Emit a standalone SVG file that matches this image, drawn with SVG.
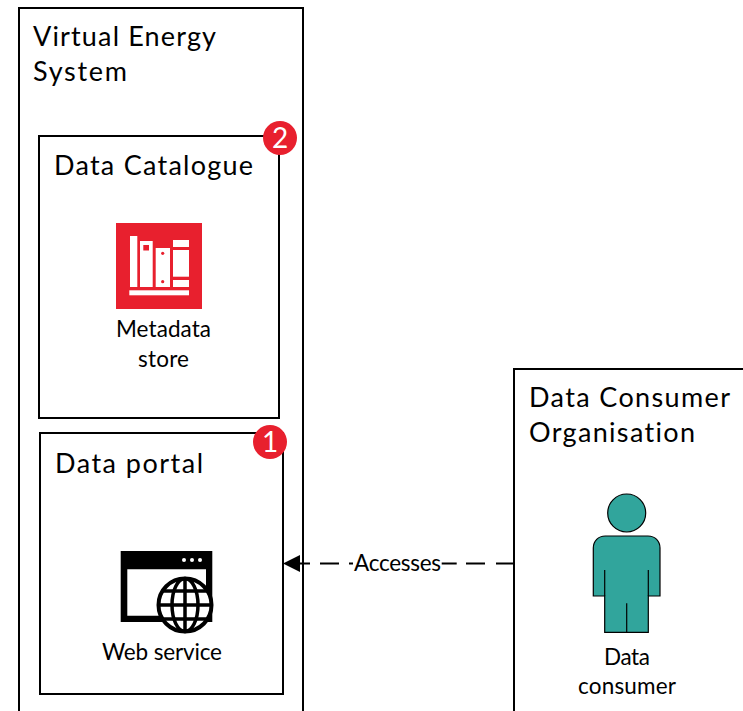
<svg xmlns="http://www.w3.org/2000/svg" width="743" height="711" viewBox="0 0 743 711">
<style>
text{font-family:Lato,"Open Sans",sans-serif;fill:#000;font-variant-ligatures:none}
.t{font-size:27px}
.l{font-size:22.500px;text-anchor:middle}
.box{fill:#fff;stroke:#000;stroke-width:2}
.badge{fill:#e8202e}
.bt{font-size:28px;fill:#fff;text-anchor:middle}
.w{fill:#fff}
.r{fill:#e8202e}
.p{fill:#31a59c;stroke:#000;stroke-width:1.200}
</style>
<g id="virtual-energy-system">
<rect class="box" x="19" y="8" width="284" height="720"/>
<text class="t" x="33" y="46" textLength="183" lengthAdjust="spacing">Virtual Energy</text>
<text class="t" x="33" y="81" textLength="94" lengthAdjust="spacing">System</text>
</g>
<g id="data-catalogue">
<rect class="box" x="39" y="136" width="240" height="282"/>
<text class="t" x="54" y="175" textLength="199" lengthAdjust="spacing">Data Catalogue</text>
<rect class="r" x="116" y="223" width="86" height="86"/>
<rect class="w" x="130" y="236" width="7.300" height="51"/>
<rect class="w" x="140" y="241" width="12.700" height="46"/>
<rect class="r" x="143.300" y="245" width="5.700" height="5.500"/>
<rect class="w" x="155.700" y="248" width="14.300" height="39"/>
<circle class="r" cx="162.700" cy="253.300" r="1.600"/>
<circle class="r" cx="162.700" cy="281.700" r="1.600"/>
<rect class="w" x="173" y="240" width="16" height="7"/>
<rect class="w" x="173" y="250" width="16" height="26.700"/>
<rect class="w" x="173" y="280" width="16" height="7"/>
<rect class="w" x="129.300" y="290.300" width="59.700" height="5"/>
<text class="l" x="163.500" y="337" textLength="95" lengthAdjust="spacing">Metadata</text>
<text class="l" x="163.500" y="367" textLength="51" lengthAdjust="spacing">store</text>
</g>
<g id="badge-2">
<circle class="badge" cx="280" cy="138" r="17"/>
<text class="bt" x="280" y="148">2</text>
</g>
<g id="data-portal">
<rect class="box" x="40" y="433" width="243" height="261"/>
<text class="t" x="55" y="473" textLength="148" lengthAdjust="spacing">Data portal</text>
<path fill="#000" fill-rule="evenodd" d="M120.700 551H212.300V622H120.700ZM127.300 569.300V615.700H206V569.300Z"/>
<circle class="w" cx="184" cy="560" r="2"/>
<circle class="w" cx="192" cy="560" r="2"/>
<circle class="w" cx="200" cy="560" r="2"/>
<g fill="none" stroke="#000" stroke-width="3.500">
<circle cx="185" cy="605" r="26.500" fill="#fff" stroke-width="4"/>
<ellipse cx="185" cy="605" rx="13" ry="26.500"/>
<path d="M185 578.500V631.500M158.500 605H211.500M162 591H208M162 619H208"/>
</g>
<text class="l" x="162" y="660" textLength="120" lengthAdjust="spacing">Web service</text>
</g>
<g id="badge-1">
<circle class="badge" cx="270" cy="442" r="17"/>
<text class="bt" x="270" y="452">1</text>
</g>
<g id="data-consumer-organisation">
<rect class="box" x="514" y="369" width="250" height="360"/>
<text class="t" x="529" y="407" textLength="201" lengthAdjust="spacing">Data Consumer</text>
<text class="t" x="529" y="442" textLength="166" lengthAdjust="spacing">Organisation</text>
<circle class="p" cx="626.700" cy="513" r="19"/>
<path class="p" d="M605.300 536H648C655 536 660 541 660 548V596H648.300V632.300H604.700V596H593.300V548C593.300 541 598.300 536 605.300 536Z"/>
<path fill="none" stroke="#000" stroke-width="1.200" d="M604.700 570V596M648.300 570V596M626.700 603.300V632.300"/>
<text class="l" x="627" y="665" textLength="46" lengthAdjust="spacing">Data</text>
<text class="l" x="627" y="694" textLength="98" lengthAdjust="spacing">consumer</text>
</g>
<g id="connectors">
<path fill="none" stroke="#000" stroke-width="2" d="M514 563.500H496M485 563.500H466M456.700 563.500H441.700M353 563.500H349M339 563.500H320M310 563.500H295"/>
<path d="M283 563.500L300 555V572Z" fill="#000"/>
<text class="l" x="397.500" y="571" textLength="87" lengthAdjust="spacing">Accesses</text>
</g>
</svg>
